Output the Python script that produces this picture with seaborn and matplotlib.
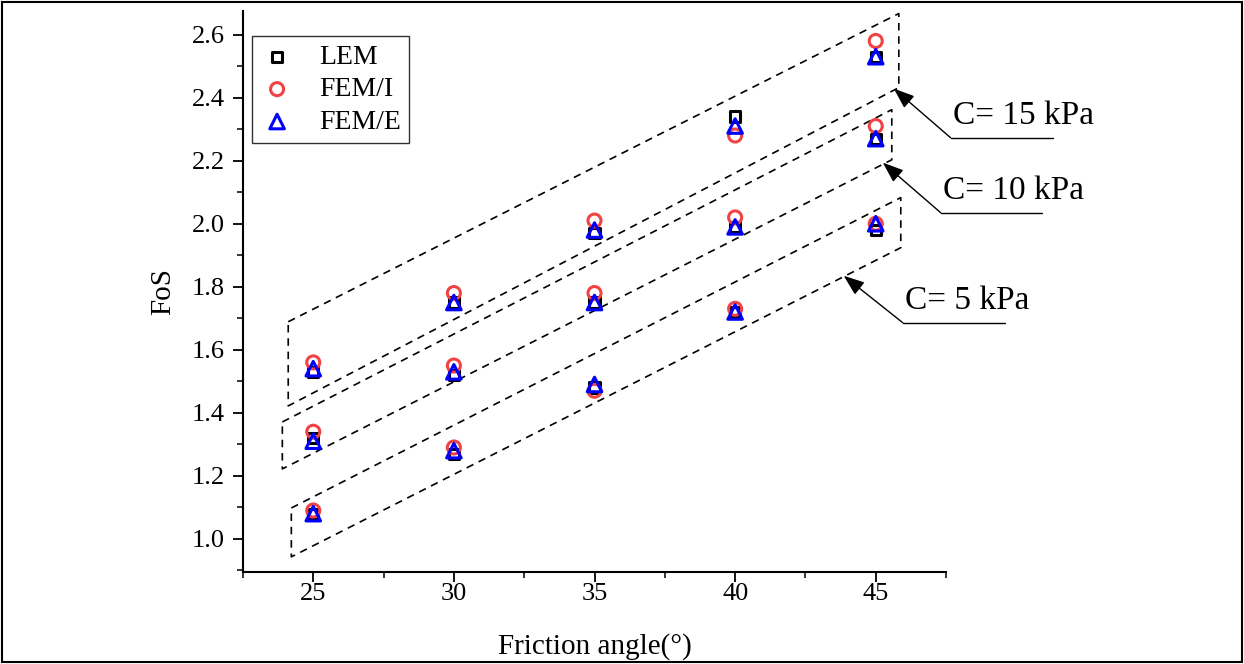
import numpy as np
import pandas as pd
import matplotlib
matplotlib.use('Agg')
from matplotlib import pyplot as plt
from matplotlib.patches import Rectangle
import seaborn as sns

# friction angle (deg) on x
friction = [25, 30, 35, 40, 45]

# FoS values, per cohesion level
lem_c5 = [1.08, 1.27, 1.48, 1.72, 1.98]
femi_c5 = [1.09, 1.29, 1.47, 1.73, 2.00]
feme_c5 = [1.08, 1.28, 1.49, 1.72, 2.00]

lem_c10 = [1.32, 1.52, 1.75, 1.99, 2.27]
femi_c10 = [1.34, 1.55, 1.78, 2.02, 2.31]
feme_c10 = [1.31, 1.53, 1.75, 1.99, 2.27]

lem_c15 = [1.53, 1.75, 1.97, 2.34, 2.53]
femi_c15 = [1.56, 1.78, 2.01, 2.28, 2.58]
feme_c15 = [1.54, 1.75, 1.98, 2.31, 2.53]

methods = ['LEM', 'FEM/I', 'FEM/E']
cohesions = ['C= 5 kPa', 'C= 10 kPa', 'C= 15 kPa']

# dashed group outlines (corner points: upper-left, upper-right, lower-right, lower-left)
box_c5_x = [24.22, 45.89, 45.89, 24.22]
box_c5_y = [1.098, 2.083, 1.924, 0.943]
box_c10_x = [23.90, 45.57, 45.57, 23.90]
box_c10_y = [1.371, 2.362, 2.203, 1.222]
box_c15_x = [24.11, 45.82, 45.82, 24.11]
box_c15_y = [1.689, 2.667, 2.432, 1.422]

# arrow tip, underline start/end x, underline y
tip_x = [43.86, 45.25, 45.64]
tip_y = [1.835, 2.194, 2.429]
ul_x0 = [45.96, 47.31, 47.66]
ul_x1 = [49.58, 50.90, 51.29]
ul_y = [1.686, 2.035, 2.273]

rows = []
for vals, m in [(lem_c5, 'LEM'), (femi_c5, 'FEM/I'), (feme_c5, 'FEM/E'),
                (lem_c10, 'LEM'), (femi_c10, 'FEM/I'), (feme_c10, 'FEM/E'),
                (lem_c15, 'LEM'), (femi_c15, 'FEM/I'), (feme_c15, 'FEM/E')]:
    for f, v in zip(friction, vals):
        rows.append({'phi': f, 'FoS': v, 'Method': m})
df = pd.DataFrame(rows)

sns.set_style('ticks')
plt.rcParams['font.family'] = ['Liberation Serif', 'DejaVu Serif']
plt.rcParams['text.color'] = 'black'
plt.rcParams['axes.labelcolor'] = 'black'

fig = plt.figure(figsize=(12.44, 6.64), dpi=100)
ax = fig.add_axes([0.1953, 0.1386, 0.5652, 0.8448])

styles = {'LEM': ('s', 'black', 55),
          'FEM/I': ('o', '#f04343', 88),
          'FEM/E': ('^', '#0000ff', 110)}
for i, m in enumerate(methods):
    mk, col, sz = styles[m]
    sub = df[df['Method'] == m]
    sns.scatterplot(x=sub['phi'], y=sub['FoS'], marker=mk, s=sz,
                    facecolors='none', edgecolors=col, linewidths=2.2,
                    label=m, ax=ax, zorder=3 + i)

# dashed outlines
for bx, by in [(box_c5_x, box_c5_y), (box_c10_x, box_c10_y), (box_c15_x, box_c15_y)]:
    ax.plot(bx + bx[:1], by + by[:1], color='black', lw=1.2,
            dashes=(4.5, 3.5), clip_on=False, zorder=2)

# labels with leader arrows
for i, lab in enumerate(cohesions):
    ax.annotate('', xy=(tip_x[i], tip_y[i]), xytext=(ul_x0[i], ul_y[i]),
                arrowprops=dict(arrowstyle='-|>,head_length=0.8,head_width=0.3',
                                color='black', lw=1.0,
                                mutation_scale=16, shrinkA=0, shrinkB=0),
                annotation_clip=False)
    ax.plot([ul_x0[i], ul_x1[i]], [ul_y[i], ul_y[i]], color='black', lw=1.0,
            clip_on=False)
    ax.text(ul_x0[i] + 0.08, ul_y[i] + 0.022, lab, fontsize=24,
            ha='left', va='bottom')

ax.set_xlim(22.5, 47.5)
ax.set_ylim(0.895, 2.675)
ax.set_xticks([25, 30, 35, 40, 45])
ax.set_xticks(np.arange(22.5, 47.6, 2.5), minor=True)
ax.set_yticks(np.arange(1.0, 2.61, 0.2))
ax.set_yticks(np.arange(0.9, 2.61, 0.1), minor=True)
ax.yaxis.set_major_formatter(matplotlib.ticker.FormatStrFormatter('%.1f'))

sns.despine(ax=ax)
for s in ['left', 'bottom']:
    ax.spines[s].set_linewidth(1.5)
    ax.spines[s].set_color('black')
ax.tick_params(which='major', direction='out', length=7, width=1.3,
               labelsize=19, colors='black', pad=6)
ax.tick_params(which='minor', direction='out', length=4, width=1.1, colors='black')
ax.tick_params(axis='x', which='major', pad=1)

ax.set_xlabel('Friction angle(°)', fontsize=21, labelpad=20)
ax.set_ylabel('FoS', fontsize=21, labelpad=11)

leg = ax.legend(loc='upper left', bbox_to_anchor=(0.013, 0.955), borderaxespad=0,
                fontsize=20, frameon=True, fancybox=False, handlelength=1.2,
                handletextpad=0.9, borderpad=0.3, labelspacing=0.25)
leg.get_frame().set_edgecolor('black')
leg.get_frame().set_linewidth(1.0)

# outer border of the figure
fig.patches.append(Rectangle((0.002, 0.003), 0.996, 0.994, transform=fig.transFigure,
                             fill=False, edgecolor='black', lw=1.5))

fig.savefig('out.png', dpi=100)
